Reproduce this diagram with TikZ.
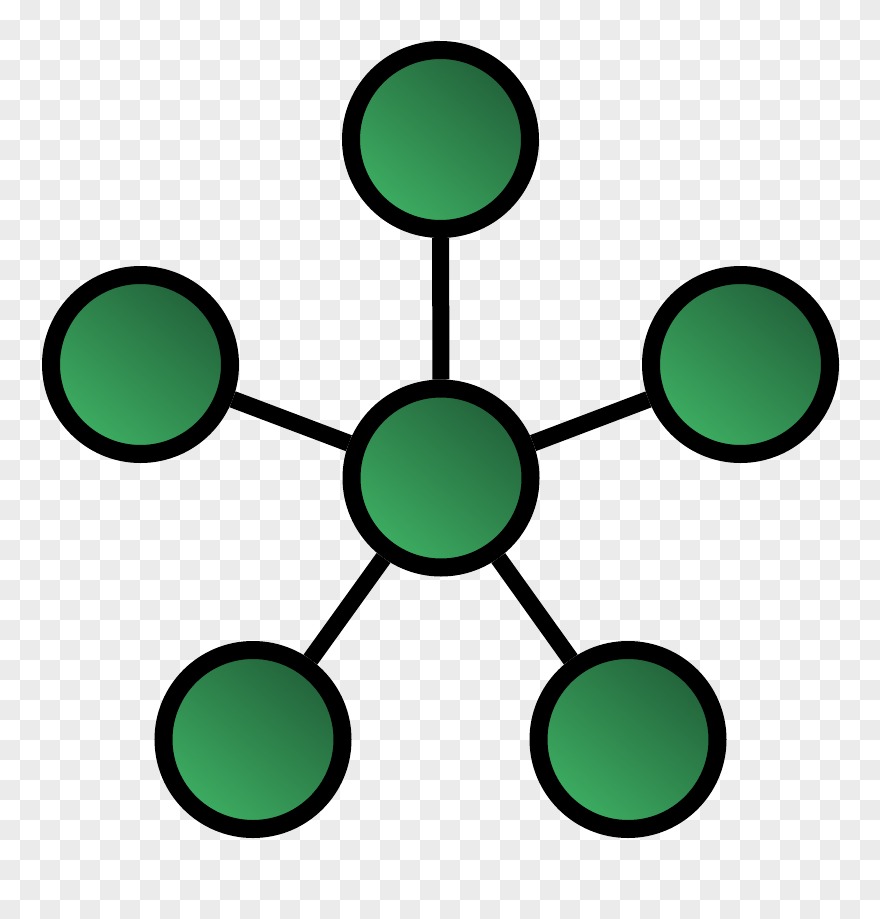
\documentclass[tikz,border=0pt]{standalone}
\definecolor{chk}{HTML}{EBEBEB}
\definecolor{gdark}{HTML}{22623A}
\definecolor{glight}{HTML}{3DAE62}
\tikzset{
  hub/.style={circle, draw=black, line width=18pt, inner sep=0pt, minimum size=179pt,
    top color=gdark, bottom color=glight, shading angle=-40},
  link/.style={draw=black, line width=17pt}
}
\begin{document}
\begin{tikzpicture}[x=1pt,y=-1pt]
\useasboundingbox (0,0) rectangle (880,919);
\fill[white] (0,0) rectangle (880,919);
\begin{scope}
\clip (0,0) rectangle (880,919);
\foreach \i in {0,...,43}{
  \foreach \j in {0,...,45}{
    \pgfmathtruncatemacro\k{mod(\i+\j,2)}
    \ifnum\k=1 \fill[chk] (\i*20,\j*20) rectangle ++(20,20);\fi
  }
}
\end{scope}
\node[hub] (c) at (441,478) {};
\node[hub] (t) at (440.5,139.5) {};
\node[hub] (l) at (140.5,364.5) {};
\node[hub] (r) at (740.5,364.5) {};
\node[hub] (bl) at (253,739.5) {};
\node[hub] (br) at (628,739.5) {};
\draw[link] (c) -- (t);
\draw[link] (c) -- (l);
\draw[link] (c) -- (r);
\draw[link] (c) -- (bl);
\draw[link] (c) -- (br);
\end{tikzpicture}
\end{document}
